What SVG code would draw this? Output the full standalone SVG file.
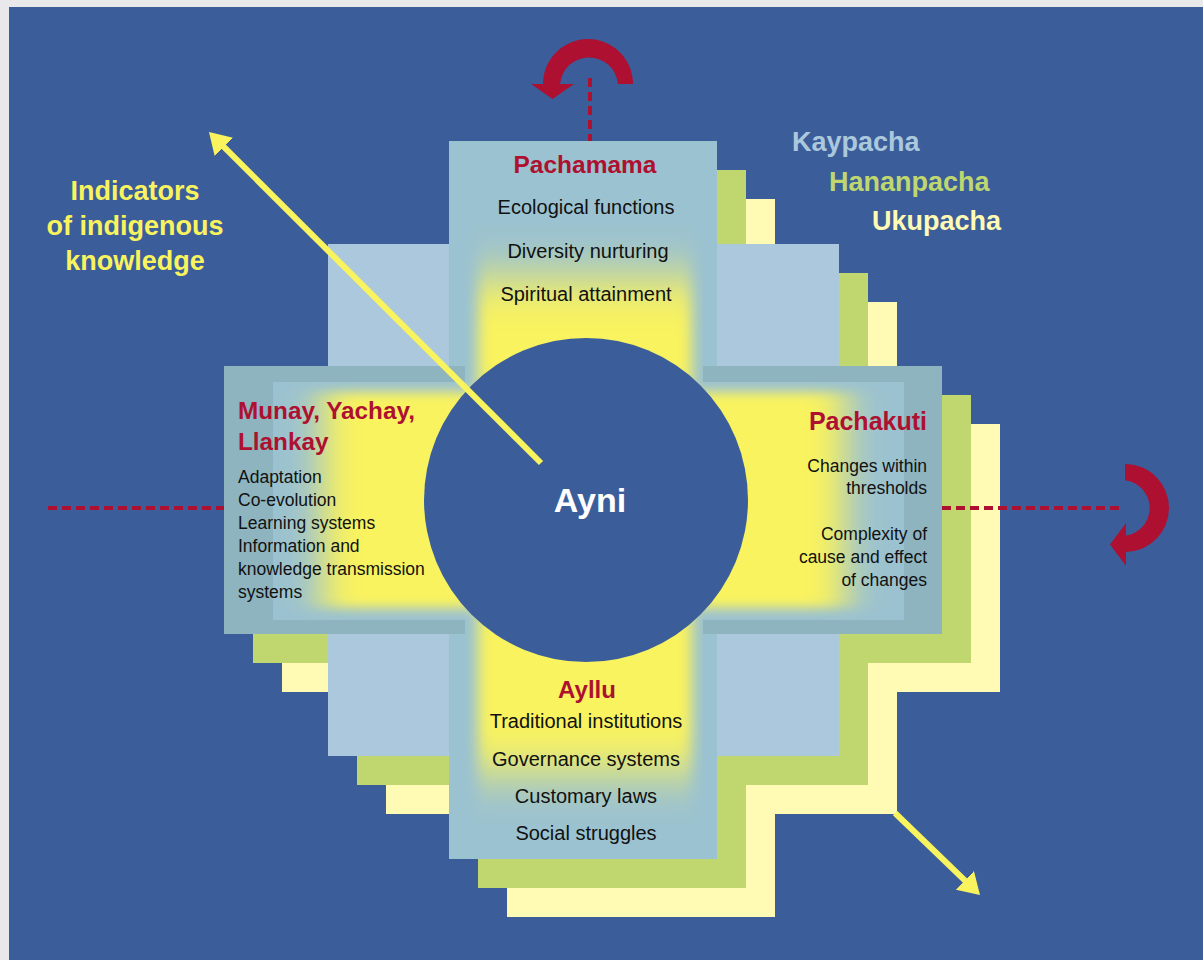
<svg xmlns="http://www.w3.org/2000/svg" width="1203" height="960" viewBox="0 0 1203 960">
<style>
.t{font-family:"Liberation Sans",Arial,sans-serif;fill:#111;}
.h{font-family:"Liberation Sans",Arial,sans-serif;font-weight:bold;fill:#ae1030;}
.b{font-family:"Liberation Sans",Arial,sans-serif;font-weight:bold;}
.kay{fill:#abc8dc;}
.han{fill:#bfd76e;}
.uku{fill:#fffab4;}
.dash{stroke:#ae1030;stroke-width:4;stroke-dasharray:9 5;fill:none;}
.yl{stroke:#f9f35e;stroke-width:6;fill:none;}
.red{fill:#ad1030;}
</style>
<defs>
<filter id="gV" filterUnits="userSpaceOnUse" x="300" y="100" width="600" height="800"><feGaussianBlur stdDeviation="7 24"/></filter>
<filter id="gH" filterUnits="userSpaceOnUse" x="150" y="300" width="900" height="400"><feGaussianBlur stdDeviation="18 6"/></filter>
<clipPath id="cV"><rect x="465" y="141" width="238" height="718"/></clipPath>
<clipPath id="cH"><rect x="273" y="382" width="631" height="238"/></clipPath>
<marker id="ya" markerUnits="userSpaceOnUse" markerWidth="24" markerHeight="28" refX="6" refY="13" orient="auto"><path d="M0,0 L21,13 L0,26 Z" fill="#f9f35e"/></marker>
</defs>
<rect x="0" y="0" width="1203" height="960" fill="#e9e8ea"/>
<rect x="9" y="7" width="1194" height="953" fill="#3b5e9b"/>

<g id="ukupacha-layer" class="uku">
<rect x="507" y="199" width="268" height="718"/>
<rect x="282" y="424" width="718" height="268"/>
<rect x="386" y="302" width="511" height="512"/>
</g>
<g id="hananpacha-layer" class="han">
<rect x="478" y="170" width="268" height="718"/>
<rect x="253" y="395" width="718" height="268"/>
<rect x="357" y="273" width="511" height="512"/>
</g>
<g id="kaypacha-layer">
<rect class="kay" x="328" y="244" width="511" height="512"/>
<rect x="449" y="141" width="268" height="718" fill="#9bc2d0"/>
<rect x="224" y="366" width="718" height="268" fill="#8db4bf"/>
<rect x="273" y="382" width="631" height="238" fill="#9bc2d0"/>
<rect x="465" y="141" width="238" height="718" fill="#9bc2d0"/>
<g clip-path="url(#cH)"><rect x="322" y="392" width="523" height="216" fill="#f9f35e" filter="url(#gH)"/></g>
<g clip-path="url(#cV)"><rect x="478" y="278" width="214" height="494" fill="#f9f35e" filter="url(#gV)"/></g>
</g>

<g id="connectors">
<line class="dash" x1="590" y1="78" x2="590" y2="141"/>
<line class="dash" x1="48" y1="508" x2="224" y2="508"/>
<line class="dash" x1="942" y1="508" x2="1123" y2="508"/>
<path class="red" d="M633 84 A45 45 0 0 0 543 84 L560.1 84 A29 29 0 0 1 617.9 84 Z"/>
<polygon class="red" points="531,84 574,84 552.5,99"/>
<path class="red" d="M1125 464 A44 44 0 0 1 1125 552 L1125 535.8 A28 28 0 0 0 1125 480.2 Z"/>
<polygon class="red" points="1126,523 1126,566 1110,544.5"/>
<line class="yl" x1="895" y1="813" x2="969.2" y2="884.6" marker-end="url(#ya)"/>
</g>

<g id="ayni">
<circle cx="586" cy="500" r="162" fill="#3b5e9b"/>
<text class="b" x="590" y="512" font-size="34" fill="#ffffff" text-anchor="middle">Ayni</text>
</g>

<g id="indicator-arrow">
<line class="yl" x1="541" y1="463" x2="219.6" y2="142.6" marker-end="url(#ya)"/>
</g>

<g id="pachamama" text-anchor="middle">
<text class="h" x="585" y="173" font-size="24.5">Pachamama</text>
<text class="t" x="586" y="214" font-size="20">Ecological functions</text>
<text class="t" x="588" y="258" font-size="20">Diversity nurturing</text>
<text class="t" x="586" y="301" font-size="20">Spiritual attainment</text>
</g>

<g id="munay">
<text class="h" x="238" y="419" font-size="24.3">Munay, Yachay,</text>
<text class="h" x="238" y="450" font-size="24.3">Llankay</text>
<text class="t" x="238" y="483" font-size="17.5">Adaptation</text>
<text class="t" x="238" y="506" font-size="17.5">Co-evolution</text>
<text class="t" x="238" y="529" font-size="17.5">Learning systems</text>
<text class="t" x="238" y="552" font-size="17.5">Information and</text>
<text class="t" x="238" y="575" font-size="17.5">knowledge transmission</text>
<text class="t" x="238" y="598" font-size="17.5">systems</text>
</g>

<g id="pachakuti" text-anchor="end">
<text class="h" x="927" y="430" font-size="25">Pachakuti</text>
<text class="t" x="927" y="472" font-size="17.5">Changes within</text>
<text class="t" x="927" y="494" font-size="17.5">thresholds</text>
<text class="t" x="927" y="540" font-size="17.5">Complexity of</text>
<text class="t" x="927" y="563" font-size="17.5">cause and effect</text>
<text class="t" x="927" y="586" font-size="17.5">of changes</text>
</g>

<g id="ayllu" text-anchor="middle">
<text class="h" x="587" y="698" font-size="24">Ayllu</text>
<text class="t" x="586" y="728" font-size="20">Traditional institutions</text>
<text class="t" x="586" y="766" font-size="20">Governance systems</text>
<text class="t" x="586" y="803" font-size="20">Customary laws</text>
<text class="t" x="586" y="840" font-size="20">Social struggles</text>
</g>

<g id="legend">
<text class="b" x="792" y="151" font-size="27" fill="#abc8dc">Kaypacha</text>
<text class="b" x="829" y="191" font-size="27" fill="#bfd76e">Hananpacha</text>
<text class="b" x="872" y="230" font-size="27" fill="#fffab4">Ukupacha</text>
</g>

<g id="indicators" text-anchor="middle">
<text class="b" x="135" y="200" font-size="27" fill="#f9f35e">Indicators</text>
<text class="b" x="135" y="235" font-size="27" fill="#f9f35e">of indigenous</text>
<text class="b" x="135" y="270" font-size="27" fill="#f9f35e">knowledge</text>
</g>
</svg>
